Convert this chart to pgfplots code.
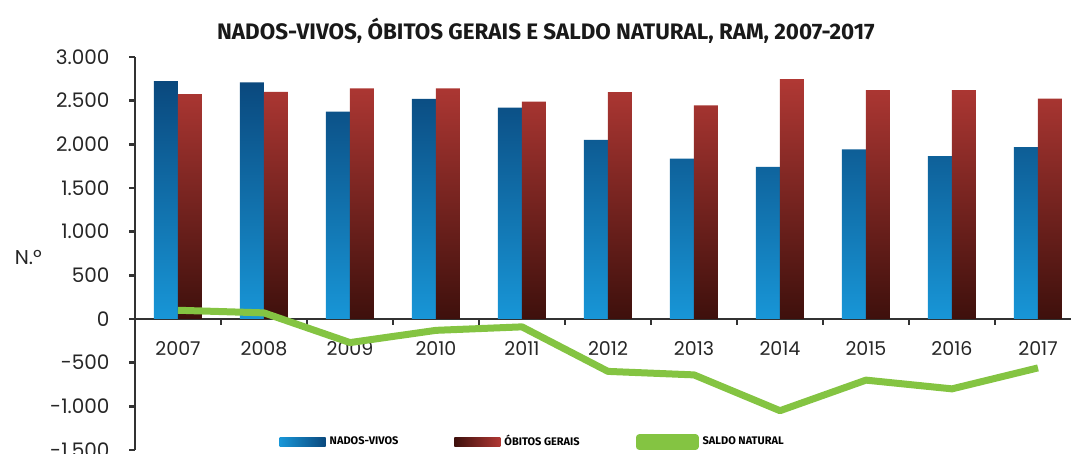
\documentclass[border=0pt]{standalone}
\usepackage{pgfplots}
\usepackage{pgfplotstable}
\pgfplotsset{compat=1.18}
\usepackage{fontspec}
\setmainfont{Fira Sans}
\newfontfamily\tickfont{Poppins}

\definecolor{blueTop}{RGB}{10,72,125}
\definecolor{blueMid}{RGB}{16,112,178}
\definecolor{blueBot}{RGB}{24,150,215}
\definecolor{redTop}{RGB}{176,56,52}
\definecolor{redMid}{RGB}{150,46,42}
\definecolor{redBot}{RGB}{62,16,12}
\definecolor{saldo}{RGB}{132,196,66}
\definecolor{axisgray}{RGB}{50,50,50}

% nados-vivos, obitos gerais e saldo natural, RAM
\pgfplotstableread{
x year nados obitos saldo
0  2007 2725 2575  100
1  2008 2708 2600   70
2  2009 2375 2640 -270
3  2010 2520 2640 -130
4  2011 2420 2490  -90
5  2012 2050 2597 -600
6  2013 1835 2447 -640
7  2014 1743 2746 -1050
8  2015 1942 2620 -700
9  2016 1865 2620 -800
10 2017 1968 2524 -560
}\data

\begin{document}
\begin{tikzpicture}
\begin{axis}[
  at={(67.5pt,2pt)}, anchor=south west,
  scale only axis, width=468pt, height=196.5pt,
  xmin=-0.5, xmax=10.384, ymin=-1500, ymax=3000,
  axis x line=middle, axis y line=left,
  axis line style={-, draw=axisgray, line width=1pt},
  hide obscured x ticks=false,
  major tick length=3pt,
  tick style={black!80, line width=1.2pt},
  tick align=outside,
  % x: ticks between the years, labels moved to the middle of each year
  xtick={-0.5,0.5,...,9.5},
  xticklabels={2007,2008,2009,2010,2011,2012,2013,2014,2015,2016,2017},
  xticklabel style={font=\tickfont\fontsize{9.5}{12}\selectfont, text=black!85, xshift=21.5pt, yshift=-4.5pt},
  ytick={-1500,-1000,...,3000},
  yticklabels={-1.500,-1.000,-500,0,500,1.000,1.500,2.000,2.500,3.000},
  yticklabel style={font=\tickfont\fontsize{10}{12}\selectfont, text=black!85, xshift=-6.2pt},
  ylabel={N.º},
  ylabel style={rotate=-90, at={(axis description cs:-0.114,0.49)}, anchor=center, font=\tickfont\fontsize{10}{12}\selectfont, text=black!85},
  title={\textbf{NADOS-VIVOS, ÓBITOS GERAIS E SALDO NATURAL, RAM, 2007-2017}},
  title style={at={(axis description cs:0.439,1.066)}, anchor=center, yshift=-6pt, font=\fontsize{11.2}{13}\selectfont, text=black!90},
  legend style={at={(axis description cs:0.426,0.02)}, anchor=center, draw=none, fill=none,
    legend columns=3, font=\fontsize{5.5}{7}\selectfont\bfseries,
    /tikz/every even column/.append style={column sep=26pt}},
  clip=false,
]
\addplot[draw=none, top color=blueTop, middle color=blueMid, bottom color=blueBot,
  ybar, bar width=12pt, bar shift=-6pt,
  legend image code/.code={\path[left color=blueBot, right color=blueTop] (0pt,-2.2pt) rectangle (23pt,2.2pt);}]
  table[x=x, y=nados]{\data};
\addplot[draw=none, top color=redTop, middle color=redMid, bottom color=redBot,
  ybar, bar width=12pt, bar shift=6pt,
  legend image code/.code={\path[left color=redBot, right color=redTop] (0pt,-2.2pt) rectangle (23pt,2.2pt);}]
  table[x=x, y=obitos]{\data};
\addplot[sharp plot, no marks, draw=saldo, line width=3.5pt, line join=round,
  legend image code/.code={\fill[saldo] (0pt,-2.2pt) rectangle (28pt,2.2pt);}]
  table[x=x, y=saldo]{\data};
\legend{NADOS-VIVOS, ÓBITOS GERAIS, SALDO NATURAL}
\end{axis}
\pgfresetboundingbox
\useasboundingbox (0,0) rectangle (535.5pt,227pt);
\end{tikzpicture}
\end{document}
